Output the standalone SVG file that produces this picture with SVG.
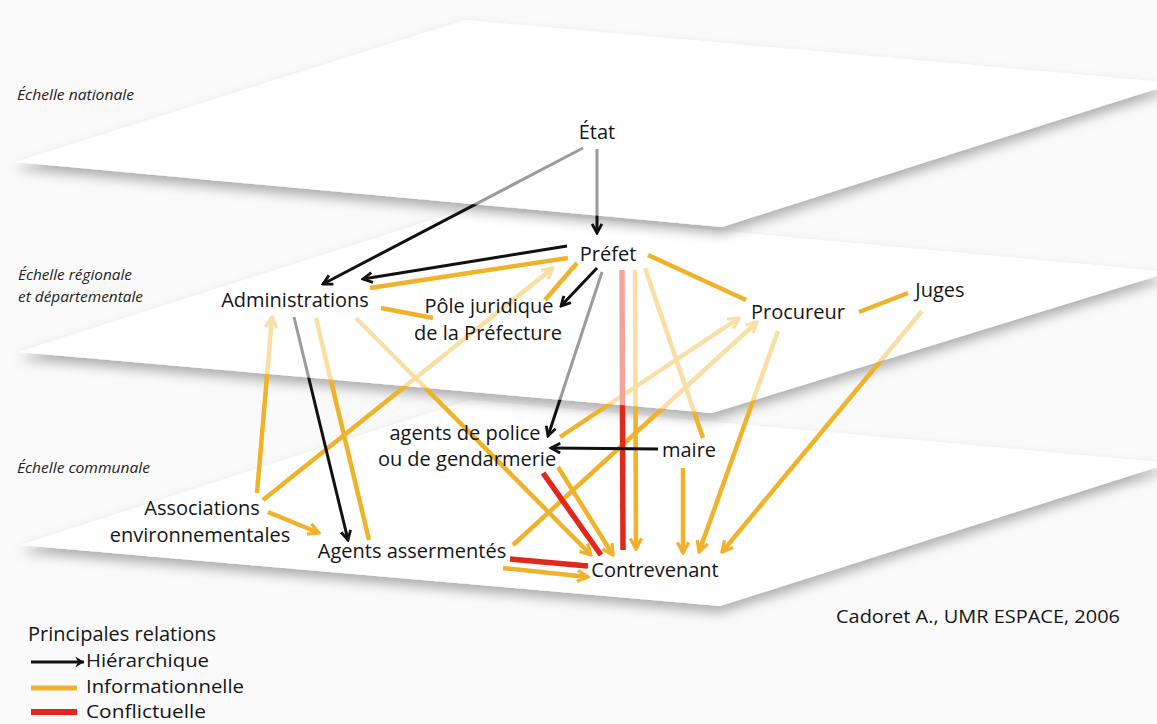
<svg xmlns="http://www.w3.org/2000/svg" width="1157" height="724" viewBox="0 0 1157 724">
<defs>
<style>
.n{font-family:"Open Sans","Noto Sans",sans-serif;font-size:20px;fill:#151515;text-anchor:middle}
.s{font-family:"Open Sans","Noto Sans",sans-serif;font-size:14.5px;font-style:italic;fill:#222}
.lg{font-family:"Open Sans","Noto Sans",sans-serif;font-size:20px;fill:#151515}
.le{font-family:"Open Sans","Noto Sans",sans-serif;font-size:18px;fill:#151515}
.plane{fill:#ffffff;filter:url(#sh)}
.k{stroke:#111;stroke-width:3;fill:none}
.y{stroke:#f0b22a;stroke-width:4.5;fill:none}
.r{stroke:#e1281b;stroke-width:5.5;fill:none}
.ak{marker-end:url(#mk)}
.ay{marker-end:url(#my)}
</style>
<filter id="sh" x="-10%" y="-20%" width="120%" height="150%">
<feDropShadow dx="0" dy="7" stdDeviation="6" flood-color="#000" flood-opacity="0.3"/>
</filter>
<marker id="mk" viewBox="0 0 12 12" refX="10.5" refY="6" markerWidth="13" markerHeight="13" markerUnits="userSpaceOnUse" orient="auto">
<path d="M2,1.5 L10.5,6 L2,10.5" fill="none" stroke="#111" stroke-width="2.6"/>
</marker>
<marker id="mkf" viewBox="0 0 12 12" refX="11" refY="6" markerWidth="13" markerHeight="13" markerUnits="userSpaceOnUse" orient="auto">
<path d="M3,1 L11,6 L3,11 L5.5,6 Z" fill="#111"/>
</marker>
<marker id="my" viewBox="0 0 12 12" refX="10.5" refY="6" markerWidth="15" markerHeight="15" markerUnits="userSpaceOnUse" orient="auto">
<path d="M2,1.5 L10.5,6 L2,10.5" fill="none" stroke="#f0b22a" stroke-width="2.6"/>
</marker>
<mask id="fade2" maskUnits="userSpaceOnUse" x="0" y="0" width="1157" height="724" style="mask-type:alpha">
<path d="M0,0 H1157 V724 H0 Z M18,352 L470,208 L1170,272 L712,413 Z" fill-rule="evenodd" fill="#000"/>
<polygon points="18,352 470,208 1170,272 712,413" fill="#000" fill-opacity="0.42"/>
</mask>
<mask id="fade1" maskUnits="userSpaceOnUse" x="0" y="0" width="1157" height="724" style="mask-type:alpha">
<path d="M0,0 H1157 V724 H0 Z M15,162 L465,20 L1175,83 L722,227 Z" fill-rule="evenodd" fill="#000"/>
<polygon points="15,162 465,20 1175,83 722,227" fill="#000" fill-opacity="0.42"/>
</mask>
</defs>

<rect width="1157" height="724" fill="#fafafa"/>

<g id="planes">
<polygon id="plane-communale" class="plane" points="20,545 470,400 1170,463 720,606"/>
<polygon id="plane-regionale" class="plane" points="18,352 470,208 1170,272 712,413"/>
<polygon id="plane-nationale" class="plane" points="15,162 465,20 1175,83 722,227"/>
</g>

<g id="scale-labels">
<text class="s" x="17" y="100" textLength="117" lengthAdjust="spacingAndGlyphs">Échelle nationale</text>
<text class="s" x="18" y="280" textLength="114" lengthAdjust="spacingAndGlyphs">Échelle régionale</text>
<text class="s" x="18" y="302" textLength="125" lengthAdjust="spacingAndGlyphs">et départementale</text>
<text class="s" x="17" y="473" textLength="133" lengthAdjust="spacingAndGlyphs">Échelle communale</text>
</g>

<g id="connectors">
<g id="between-levels" mask="url(#fade2)">
<line class="y ay" x1="257" y1="493" x2="272" y2="317"/>
<line class="y ay" x1="263" y1="500" x2="553" y2="268"/>
<line class="y" x1="316" y1="318" x2="369" y2="540"/>
<line class="y ay" x1="356" y1="318" x2="591" y2="555"/>
<line class="y ay" x1="560" y1="437" x2="739" y2="318"/>
<line class="y ay" x1="513" y1="545" x2="757" y2="322"/>
<line class="y ay" x1="778" y1="331" x2="699" y2="552"/>
<line class="y ay" x1="922" y1="311" x2="722" y2="552"/>
<line class="y ay" x1="635" y1="270" x2="636" y2="549"/>
<line class="y" x1="645" y1="268" x2="703" y2="438"/>
<line class="r" x1="622" y1="270" x2="623" y2="550"/>
<line class="k ak" x1="602" y1="272" x2="548" y2="436"/>
<line class="k ak" x1="294" y1="317" x2="348" y2="540"/>
</g>
<g id="from-national" mask="url(#fade1)">
<line class="k ak" x1="583" y1="148" x2="323" y2="284"/>
<line class="k ak" x1="597" y1="149" x2="597" y2="233"/>
</g>
<g id="within-levels">
<line class="k ak" x1="567" y1="246" x2="363" y2="279"/>
<line class="y" x1="568" y1="258" x2="370" y2="288"/>
<line class="y" x1="381" y1="308" x2="433" y2="318"/>
<line class="y" x1="545" y1="300" x2="577" y2="263"/>
<line class="k ak" x1="597" y1="268" x2="561" y2="306"/>
<line class="y" x1="648" y1="255" x2="746" y2="300"/>
<line class="y" x1="859" y1="312" x2="908" y2="293"/>
<line class="k ak" x1="658" y1="449" x2="551" y2="448"/>
<line class="y ay" x1="268" y1="512" x2="319" y2="533"/>
<line class="y ay" x1="683" y1="468" x2="683" y2="553"/>
<line class="y ay" x1="558" y1="467" x2="613" y2="555"/>
<line class="r" x1="543" y1="473" x2="601" y2="555"/>
<line class="r" x1="510" y1="559" x2="588" y2="566"/>
<line class="y ay" x1="503" y1="568" x2="588" y2="577"/>
</g>
</g>

<g id="etat"><text class="n" x="597" y="139">État</text></g>
<g id="prefet"><text class="n" x="608" y="261">Préfet</text></g>
<g id="administrations"><text class="n" x="295" y="307">Administrations</text></g>
<g id="pole-juridique"><text class="n" x="489" y="313">Pôle juridique</text><text class="n" x="488" y="340">de la Préfecture</text></g>
<g id="procureur"><text class="n" x="798" y="319">Procureur</text></g>
<g id="juges"><text class="n" x="940" y="297">Juges</text></g>
<g id="agents-police"><text class="n" x="465" y="440">agents de police</text><text class="n" x="467" y="466">ou de gendarmerie</text></g>
<g id="maire"><text class="n" x="689" y="457">maire</text></g>
<g id="associations"><text class="n" x="202" y="515">Associations</text><text class="n" x="200" y="542">environnementales</text></g>
<g id="agents-assermentes"><text class="n" x="412" y="558">Agents assermentés</text></g>
<g id="contrevenant"><text class="n" x="655" y="577">Contrevenant</text></g>

<g id="credit"><text class="lg" x="836" y="623" textLength="284" lengthAdjust="spacingAndGlyphs" style="font-size:18px">Cadoret A., UMR ESPACE, 2006</text></g>

<g id="legend">
<text class="lg" x="28" y="641">Principales relations</text>
<line x1="31" y1="662" x2="84" y2="662" stroke="#111" stroke-width="3" marker-end="url(#mkf)"/>
<text class="le" x="86" y="667" textLength="123" lengthAdjust="spacingAndGlyphs">Hiérarchique</text>
<line class="y" x1="31" y1="688" x2="77" y2="688" style="stroke-width:5"/>
<text class="le" x="86" y="693" textLength="158" lengthAdjust="spacingAndGlyphs">Informationnelle</text>
<line class="r" x1="31" y1="712" x2="77" y2="712" style="stroke-width:6"/>
<text class="le" x="86" y="718" textLength="120" lengthAdjust="spacingAndGlyphs">Conflictuelle</text>
</g>
</svg>
